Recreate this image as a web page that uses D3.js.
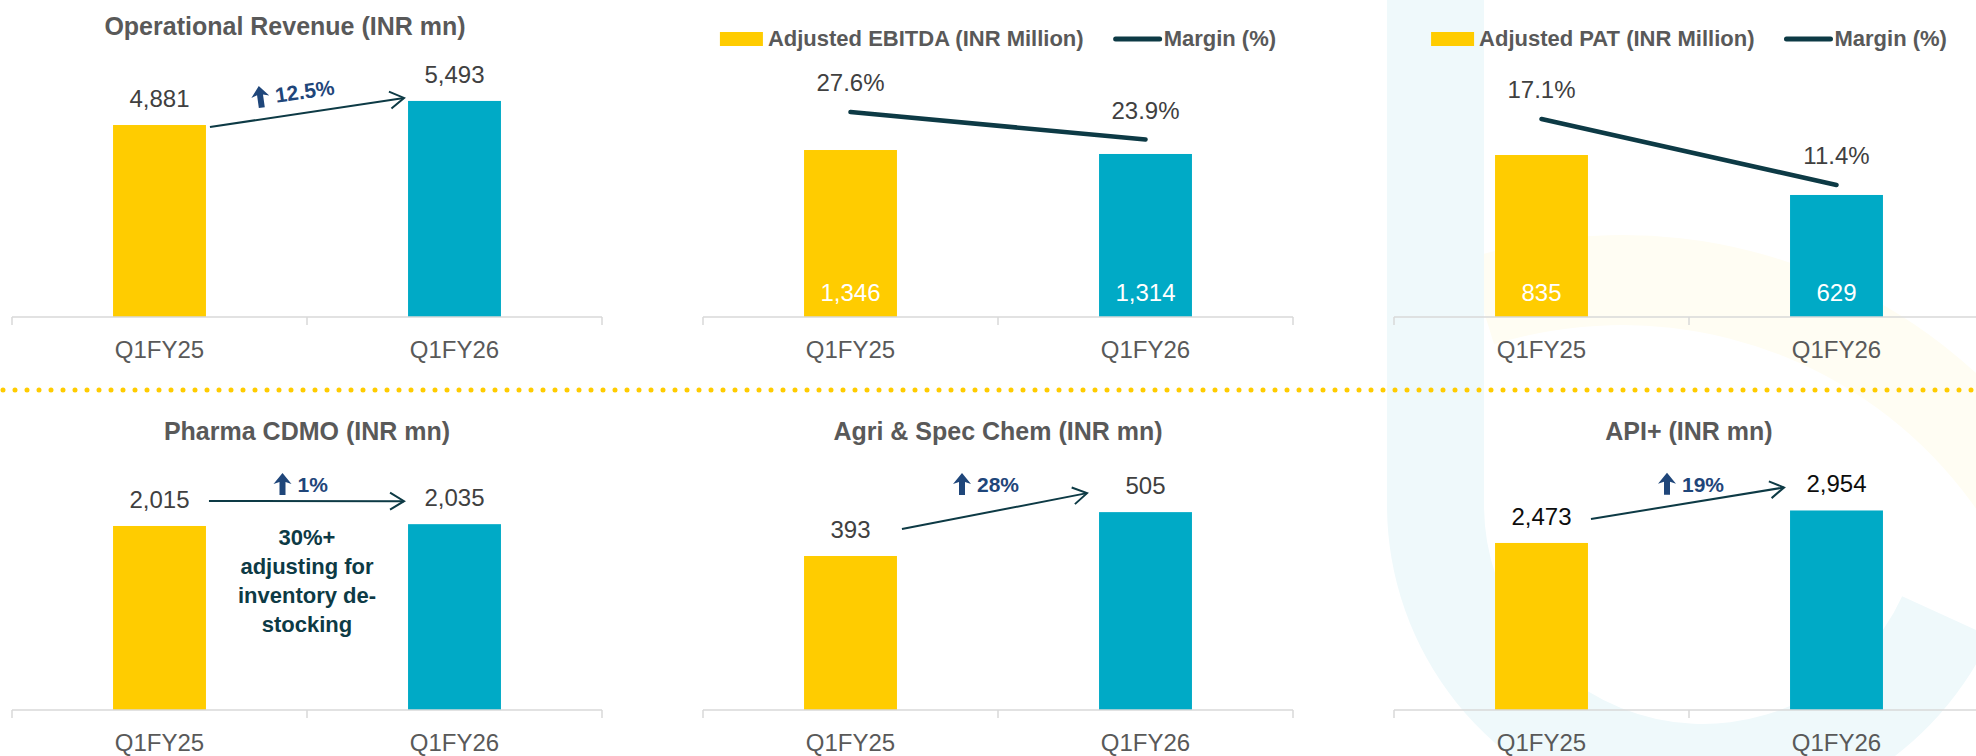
<!DOCTYPE html>
<html>
<head>
<meta charset="utf-8">
<script src="https://cdn.jsdelivr.net/npm/d3@7"></script>
<style>
  body { margin: 0; background: #fff; overflow: hidden; }
  svg text { font-family: "Liberation Sans", Arial, sans-serif; }
</style>
</head>
<body>
<div id="chart"></div>
<script>
// chart data
var categories = ["Q1FY25", "Q1FY26"];
var revenue = [4881, 5493];
var ebitda = [1346, 1314];
var ebitdaMargin = [27.6, 23.9];
var pat = [835, 629];
var patMargin = [17.1, 11.4];
var pharmaCdmo = [2015, 2035];
var agriSpecChem = [393, 505];
var apiPlus = [2473, 2954];
var growthLabels = ["12.5%", "1%", "28%", "19%"];
var pharmaNote = ["30%+", "adjusting for", "inventory de-", "stocking"];

var width = 1976, height = 756;
var barColors = ["#FFCC00", "#00AAC6"];
var darkTeal = "#0D3A45";
var growthColor = "#1F467A";
var fmt = d3.format(",");
var fmtPct = function (d) { return d3.format(".1f")(d) + "%"; };

var svg = d3.select("#chart")
    .append("svg")
    .attr("width", width)
    .attr("height", height);

// faint logo watermark behind the right column
var wm = svg.append("g");
wm.append("path")
    .attr("transform", "translate(1622,758)")
    .attr("d", d3.arc().innerRadius(433).outerRadius(523).startAngle(-0.3).endAngle(1.9)())
    .attr("fill", "#FFFDF3");
wm.append("rect")
    .attr("x", 1387).attr("y", 0)
    .attr("width", 97).attr("height", 505)
    .attr("fill", "#EFF9FB");
wm.append("path")
    .attr("transform", "translate(1703,505)")
    .attr("d", d3.arc().innerRadius(219).outerRadius(316).startAngle(2.0).endAngle(Math.PI * 1.5)())
    .attr("fill", "#EFF9FB");

// dotted separator between the two rows
svg.append("line")
    .attr("x1", 3).attr("x2", width)
    .attr("y1", 390).attr("y2", 390)
    .attr("stroke", "#FFCC00")
    .attr("stroke-width", 5)
    .attr("stroke-linecap", "round")
    .attr("stroke-dasharray", "0 12");

function upArrowIcon(g) {
    g.append("path")
        .attr("d", "M9,-19 L18,-8 L12,-10 L12,3 L6,3 L6,-10 L0,-8 Z")
        .attr("fill", growthColor);
}

function drawPanel(opt) {
    var g = svg.append("g");
    var left = opt.left, right = opt.left + 590;
    var cx = (left + right) / 2;

    var x = d3.scaleBand()
        .domain(categories)
        .range([left, right])
        .paddingInner(0.685)
        .paddingOuter(0.3425);
    var y = d3.scaleLinear()
        .domain([0, opt.yMax])
        .range([opt.axisY, opt.yTop]);
    var bw = x.bandwidth();

    // bars
    g.selectAll(".bar")
        .data(opt.values)
        .enter()
        .append("rect")
        .attr("class", "bar")
        .attr("x", function (d, i) { return x(categories[i]); })
        .attr("y", function (d) { return y(d); })
        .attr("width", bw)
        .attr("height", function (d) { return opt.axisY - y(d); })
        .attr("fill", function (d, i) { return barColors[i]; });

    // category axis with ticks between categories
    var xAxis = g.append("g")
        .attr("transform", "translate(0," + opt.axisY + ")")
        .call(d3.axisBottom(x).tickSize(0).tickPadding(0));
    xAxis.select(".domain").remove();
    xAxis.selectAll("text")
        .attr("y", 41)
        .attr("dy", 0)
        .attr("font-size", 24)
        .attr("fill", "#595959");

    var step = x.step();
    var bounds = d3.range(categories.length + 1).map(function (i) { return left + i * step; });
    g.append("line")
        .attr("x1", left).attr("x2", right)
        .attr("y1", opt.axisY).attr("y2", opt.axisY)
        .attr("stroke", "#D9D9D9").attr("stroke-width", 1.5);
    g.selectAll(".tick-mark")
        .data(bounds)
        .enter()
        .append("line")
        .attr("x1", function (d) { return d; })
        .attr("x2", function (d) { return d; })
        .attr("y1", opt.axisY)
        .attr("y2", opt.axisY + 8)
        .attr("stroke", "#D9D9D9").attr("stroke-width", 1.5);

    // value labels
    g.selectAll(".val")
        .data(opt.values)
        .enter()
        .append("text")
        .attr("x", function (d, i) { return x(categories[i]) + bw / 2; })
        .attr("y", function (d) { return opt.inside ? opt.axisY - 16 : y(d) - 18; })
        .attr("text-anchor", "middle")
        .attr("font-size", 24)
        .attr("fill", opt.inside ? "#FFFFFF" : (opt.labelColor || "#404040"))
        .text(function (d) { return fmt(d); });

    // title
    if (opt.title) {
        g.append("text")
            .attr("x", cx + (opt.titleDx || 0))
            .attr("y", opt.titleY)
            .attr("text-anchor", "middle")
            .attr("font-size", 25)
            .attr("font-weight", "bold")
            .attr("fill", "#595959")
            .text(opt.title);
    }

    // legend (bar + margin line)
    if (opt.legend) {
        var lg = g.append("g");
        lg.append("rect")
            .attr("x", 0).attr("y", 32)
            .attr("width", 43).attr("height", 14)
            .attr("fill", barColors[0]);
        var t0 = lg.append("text")
            .attr("x", 48).attr("y", 46)
            .attr("font-size", 22).attr("font-weight", "bold")
            .attr("fill", "#595959")
            .text(opt.legend[0]);
        var lx = 48 + t0.node().getComputedTextLength() + 32;
        lg.append("line")
            .attr("x1", lx).attr("x2", lx + 44)
            .attr("y1", 39).attr("y2", 39)
            .attr("stroke", darkTeal).attr("stroke-width", 5)
            .attr("stroke-linecap", "round");
        var t1 = lg.append("text")
            .attr("x", lx + 48).attr("y", 46)
            .attr("font-size", 22).attr("font-weight", "bold")
            .attr("fill", "#595959")
            .text(opt.legend[1]);
        var total = lx + 48 + t1.node().getComputedTextLength();
        lg.attr("transform", "translate(" + (cx - total / 2) + ",0)");
    }

    // margin line on its own scale
    if (opt.margin) {
        var y2 = d3.scaleLinear()
            .domain([0, opt.marginMax])
            .range([opt.axisY, opt.marginTop]);
        var line = d3.line()
            .x(function (d, i) { return x(categories[i]) + bw / 2; })
            .y(function (d) { return y2(d); });
        g.append("path")
            .datum(opt.margin)
            .attr("d", line)
            .attr("fill", "none")
            .attr("stroke", darkTeal)
            .attr("stroke-width", 4.5)
            .attr("stroke-linecap", "round");
        g.selectAll(".mlab")
            .data(opt.margin)
            .enter()
            .append("text")
            .attr("x", function (d, i) { return x(categories[i]) + bw / 2; })
            .attr("y", function (d) { return y2(d) - 21; })
            .attr("text-anchor", "middle")
            .attr("font-size", 24)
            .attr("fill", "#404040")
            .text(fmtPct);
    }

    // growth arrow between the bars
    if (opt.arrow) {
        var v = opt.values;
        var x1 = x(categories[0]) + bw + opt.arrow.gap[0];
        var y1 = y(v[0]) - opt.arrow.lift[0];
        var x2 = x(categories[1]) - opt.arrow.gap[1];
        var y2p = y(v[1]) - opt.arrow.lift[1];
        var ang = Math.atan2(y2p - y1, x2 - x1);
        var len = 14, hw = 8.5;
        var ca = Math.cos(ang), sa = Math.sin(ang);
        g.append("line")
            .attr("x1", x1).attr("y1", y1)
            .attr("x2", x2).attr("y2", y2p)
            .attr("stroke", darkTeal).attr("stroke-width", 2);
        g.append("path")
            .attr("d", "M" + (x2 - len * ca + hw * sa) + "," + (y2p - len * sa - hw * ca) +
                " L" + x2 + "," + y2p +
                " L" + (x2 - len * ca - hw * sa) + "," + (y2p - len * sa + hw * ca))
            .attr("fill", "none")
            .attr("stroke", darkTeal).attr("stroke-width", 2)
            .attr("stroke-linejoin", "miter");

        var mx = (x1 + x2) / 2, my = (y1 + y2p) / 2;
        var ag = g.append("g")
            .attr("transform", "translate(" + (mx + opt.growth.dx) + "," + (my + opt.growth.dy) + ") rotate(" + (opt.growth.rot || 0) + ")");
        upArrowIcon(ag);
        ag.append("text")
            .attr("x", 24).attr("y", 0)
            .attr("font-size", 21).attr("font-weight", "bold")
            .attr("fill", growthColor)
            .text(opt.growth.text);
    }

    // side note
    if (opt.note) {
        g.selectAll(".note")
            .data(opt.note)
            .enter()
            .append("text")
            .attr("x", cx)
            .attr("y", function (d, i) { return opt.noteY + i * 29; })
            .attr("text-anchor", "middle")
            .attr("font-size", 22).attr("font-weight", "bold")
            .attr("fill", darkTeal)
            .text(function (d) { return d; });
    }
}

drawPanel({
    left: 12, axisY: 317, yMax: 6000, yTop: 81, values: revenue,
    title: "Operational Revenue (INR mn)", titleY: 35, titleDx: -22,
    arrow: { gap: [4, 4], lift: [-2, 3] },
    growth: { text: growthLabels[0], dx: -54.5, dy: -6.5, rot: -8 }
});
drawPanel({
    left: 703, axisY: 317, yMax: 1600, yTop: 118.5, values: ebitda, inside: true,
    legend: ["Adjusted EBITDA (INR Million)", "Margin (%)"],
    margin: ebitdaMargin, marginMax: 30, marginTop: 94.2
});
drawPanel({
    left: 1394, axisY: 317, yMax: 1000, yTop: 123, values: pat, inside: true,
    legend: ["Adjusted PAT (INR Million)", "Margin (%)"],
    margin: patMargin, marginMax: 20, marginTop: 85.4
});
drawPanel({
    left: 12, axisY: 710, yMax: 2500, yTop: 481.7, values: pharmaCdmo,
    title: "Pharma CDMO (INR mn)", titleY: 440,
    arrow: { gap: [3, 4], lift: [25, 23] },
    growth: { text: growthLabels[1], dx: -33, dy: -9 },
    note: pharmaNote, noteY: 545
});
drawPanel({
    left: 703, axisY: 710, yMax: 600, yTop: 474.9, values: agriSpecChem,
    title: "Agri & Spec Chem (INR mn)", titleY: 440,
    arrow: { gap: [5, 12], lift: [27, 19] },
    growth: { text: growthLabels[2], dx: -41.5, dy: -19 }
});
drawPanel({
    left: 1394, axisY: 710, yMax: 3500, yTop: 473.6, values: apiPlus, labelColor: "#0D0D0D",
    title: "API+ (INR mn)", titleY: 440,
    arrow: { gap: [3, 6], lift: [24, 23] },
    growth: { text: growthLabels[3], dx: -29.5, dy: -11.5 }
});
</script>
</body>
</html>
